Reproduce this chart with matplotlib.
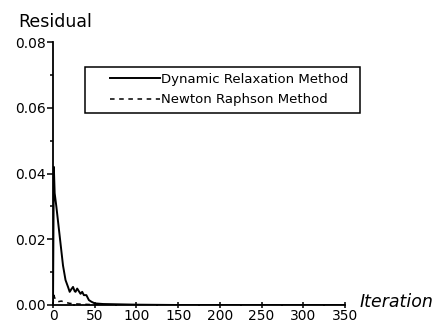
import numpy as np
import matplotlib
matplotlib.use("Agg")
import matplotlib.pyplot as plt
from matplotlib.patches import Rectangle
from matplotlib.ticker import MultipleLocator, FormatStrFormatter

plt.rcParams['font.family'] = ['DejaVu Sans']

# Dynamic relaxation residual history
dr_iter = [0, 1, 2, 4, 8, 12, 15, 18, 20, 22, 24, 26, 27, 29, 31, 33, 35, 37,
           40, 43, 46, 50, 60, 80, 100, 150, 200, 250, 300, 350]
dr_res = [0.0, 0.042, 0.034, 0.030, 0.021, 0.012, 0.0076, 0.0055, 0.0040,
          0.0048, 0.0055, 0.0042, 0.0040, 0.0050, 0.0042, 0.0034, 0.0040,
          0.0030, 0.0030, 0.0015, 0.0010, 0.0005, 0.0003, 0.0002, 0.0001,
          0.0, 0.0, 0.0, 0.0, 0.0]

# Newton Raphson residual history
nr_iter = [0, 1, 3, 6, 10, 15, 20, 30, 40, 50, 60]
nr_res = [0.0, 0.003, 0.0015, 0.0010, 0.0012, 0.0008, 0.0005, 0.0003,
          0.0002, 0.0001, 0.0]

W, H = 437, 331
fig = plt.figure(figsize=(W / 100, H / 100), dpi=100)
ax = fig.add_axes([53 / W, 1 - 305 / H, 292 / W, 263 / H])

ax.plot(dr_iter, dr_res, color='black', lw=1.4, label='Dynamic Relaxation Method')
ax.plot(nr_iter, nr_res, color='black', lw=1.1, ls=(0, (3, 3)),
        label='Newton Raphson Method')

ax.set_xlim(0, 350)
ax.set_ylim(0, 0.08)
ax.xaxis.set_major_locator(MultipleLocator(50))
ax.xaxis.set_minor_locator(MultipleLocator(25))
ax.yaxis.set_major_locator(MultipleLocator(0.02))
ax.yaxis.set_minor_locator(MultipleLocator(0.01))
ax.yaxis.set_major_formatter(FormatStrFormatter('%.2f'))

for s in ['top', 'right']:
    ax.spines[s].set_visible(False)
for s in ['left', 'bottom']:
    ax.spines[s].set_linewidth(1.3)

ax.tick_params(axis='both', which='major', labelsize=10, width=1.1, length=4,
               pad=1)
ax.tick_params(axis='both', which='minor', width=1.1, length=2)
ax.tick_params(axis='x', which='both', direction='inout')
ax.tick_params(axis='y', which='both', direction='out')

fig.text(18 / W, 1 - 22 / H, 'Residual', fontsize=12.5, ha='left', va='center')
fig.text(360 / W, 1 - 302 / H, 'Iteration', fontsize=12.5, style='italic',
         ha='left', va='center')

# legend box drawn separately, legend itself frameless inside it
fig.patches.append(Rectangle((85 / W, 1 - 113 / H), 275 / W, 46 / H,
                             transform=fig.transFigure, fill=False,
                             edgecolor='black', linewidth=1.1))
leg = ax.legend(loc='upper left', bbox_to_anchor=(110 / W, 1 - 73 / H),
                bbox_transform=fig.transFigure, fontsize=9.5,
                handlelength=3.8, handletextpad=0.1, borderpad=0,
                borderaxespad=0, labelspacing=0.55, frameon=False)

fig.savefig('out.png', dpi=100)
